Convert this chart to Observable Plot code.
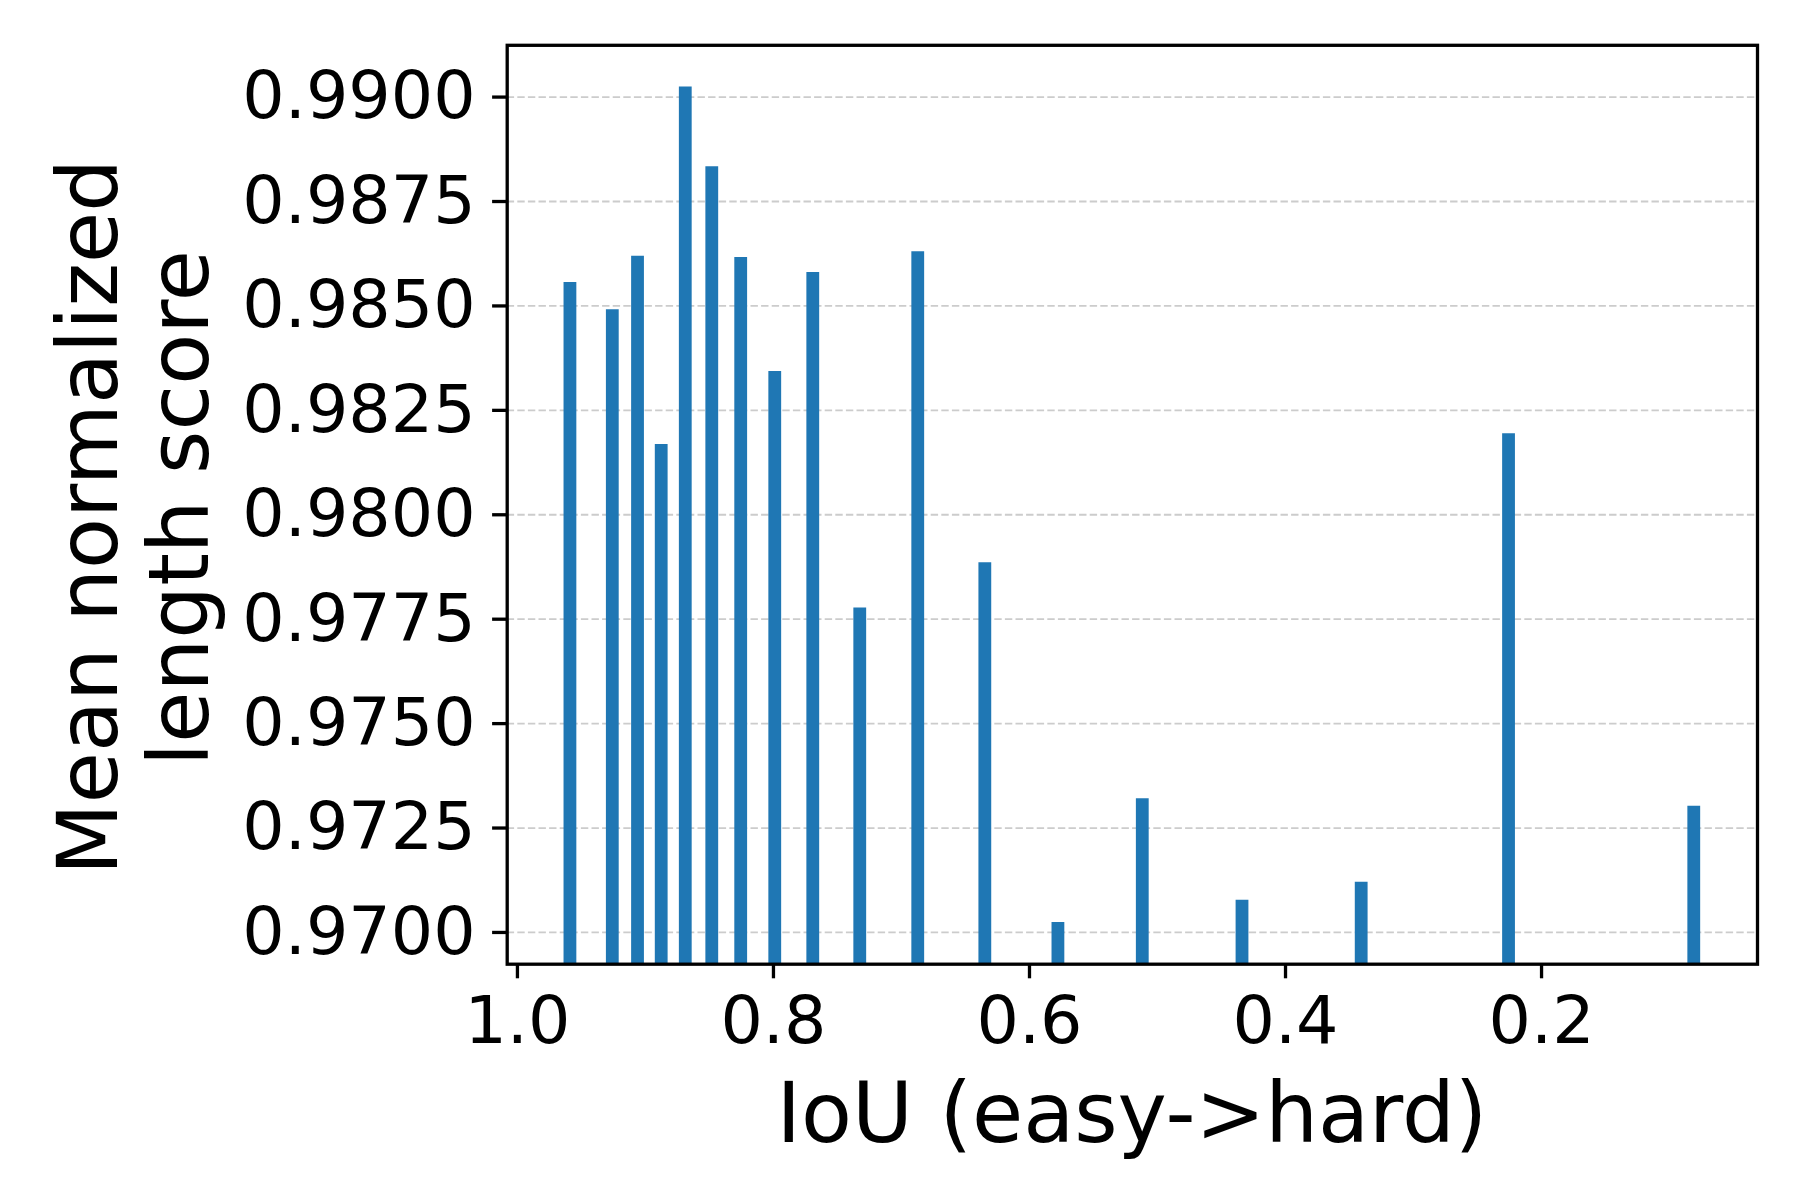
<!DOCTYPE html>
<html>
<head>
<meta charset="utf-8">
<script src="https://cdn.jsdelivr.net/npm/d3@7"></script>
<script src="https://cdn.jsdelivr.net/npm/@observablehq/plot@0.6"></script>
<style>
  html, body { margin: 0; padding: 0; background: #ffffff; }
  #chart svg { display: block; }
</style>
</head>
<body>
<div id="chart"></div>
<script>
// ---- data ----
const iou = [0.9586, 0.9255, 0.9058, 0.8873, 0.8685, 0.8478, 0.8252, 0.7986, 0.7689,
             0.7322, 0.6869, 0.6345, 0.5774, 0.5115, 0.4336, 0.3405, 0.2254, 0.0807];
const score = [0.98556, 0.98491, 0.98619, 0.98168, 0.99024, 0.98833, 0.98616, 0.98343, 0.98580,
               0.97777, 0.98630, 0.97885, 0.97024, 0.97320, 0.97077, 0.97120, 0.98194, 0.97302];
const xTicks = [1.0, 0.8, 0.6, 0.4, 0.2];
const yTicks = [0.9700, 0.9725, 0.9750, 0.9775, 0.9800, 0.9825, 0.9850, 0.9875, 0.9900];
const xLabel = "IoU (easy->hard)";
const yLabelLines = ["Mean normalized", "length score"];
const barWidth = 0.01;

const data = iou.map((v, i) => ({iou: v, score: score[i]}));

// domains like matplotlib: 5% x-margin around bar extents, y = [min-0.001, max+0.001]
const xlo = d3.min(iou) - barWidth / 2, xhi = d3.max(iou) + barWidth / 2;
const xpad = (xhi - xlo) * 0.05;
const xDomain = [xlo - xpad, xhi + xpad];
const yDomain = [d3.min(score) - 0.001, d3.max(score) + 0.001];

const W = 1800, H = 1200;
const mL = 506.7, mR = 43, mT = 44.8, mB = 236.3;
const font = "DejaVu Sans";
const tickFS = 66.7, labelFS = 83.3;

const chart = Plot.plot({
  width: W,
  height: H,
  marginLeft: mL,
  marginRight: mR,
  marginTop: mT,
  marginBottom: mB,
  style: {fontFamily: font, background: "#ffffff", color: "#000000"},
  x: {domain: xDomain, reverse: true},
  y: {domain: yDomain},
  marks: [
    Plot.gridY(yTicks, {stroke: "#cccccc", strokeOpacity: 1, strokeWidth: 1.8, strokeDasharray: "7.4,3.2"}),
    Plot.rectY(data, {
      x1: d => d.iou - barWidth / 2,
      x2: d => d.iou + barWidth / 2,
      y: "score",
      fill: "#1f77b4",
      clip: true
    }),
    Plot.axisX({ticks: xTicks, tickFormat: d3.format(".1f"), tickSize: 14.6, tickPadding: 17,
                fontSize: tickFS, strokeWidth: 3.3, stroke: "#000", fill: "#000", label: null}),
    Plot.axisY({ticks: yTicks, tickFormat: d3.format(".4f"), tickSize: 14.6, tickPadding: 17,
                fontSize: tickFS, strokeWidth: 3.3, stroke: "#000", fill: "#000", label: null}),
    Plot.frame({stroke: "#000000", strokeWidth: 3.3})
  ]
});

document.getElementById("chart").appendChild(chart);

// axis titles
const svg = d3.select(chart);
const cx = (mL + (W - mR)) / 2;
svg.append("text")
  .attr("x", cx).attr("y", 1142)
  .attr("text-anchor", "middle")
  .attr("font-family", font).attr("font-size", labelFS).attr("fill", "#000")
  .text(xLabel);
const yLabelX = [116.7, 208.3];
const yLabelY = [517, 508];
yLabelLines.forEach((t, i) => {
  svg.append("text")
    .attr("transform", `translate(${yLabelX[i]},${yLabelY[i]}) rotate(-90)`)
    .attr("text-anchor", "middle")
    .attr("font-family", font).attr("font-size", labelFS).attr("fill", "#000")
    .text(t);
});
</script>
</body>
</html>
